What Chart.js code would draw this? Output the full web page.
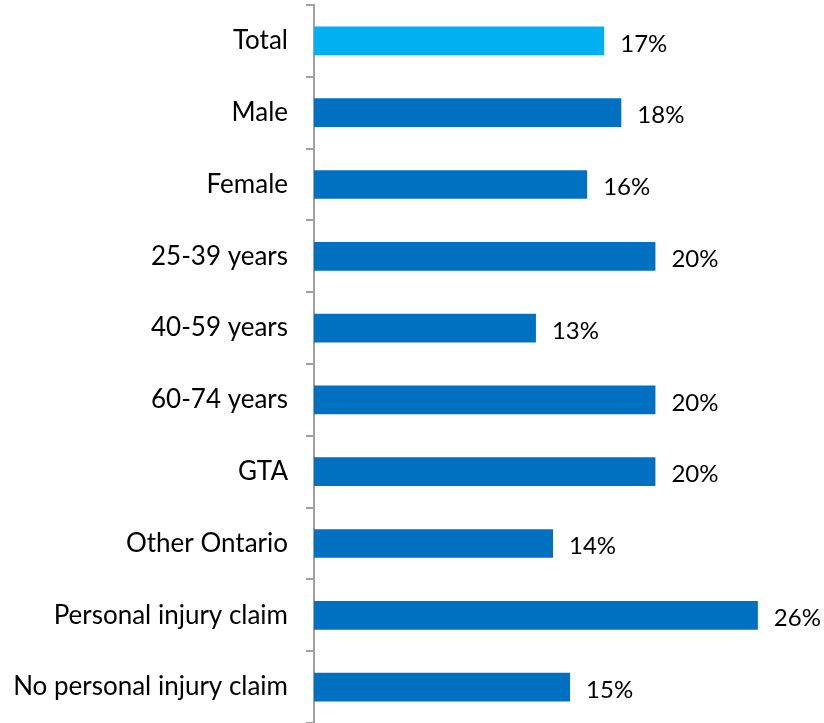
<!DOCTYPE html>
<html>
<head>
<meta charset="utf-8">
<script src="https://cdn.jsdelivr.net/npm/chart.js@4/dist/chart.umd.min.js"></script>
<style>
  html, body { margin: 0; padding: 0; background: #fff; }
  #wrap { width: 824px; height: 723px; position: relative; }
</style>
</head>
<body>
<div id="wrap"><canvas id="c"></canvas></div>
<script>
const categories = [
  'Total', 'Male', 'Female', '25-39 years', '40-59 years', '60-74 years',
  'GTA', 'Other Ontario', 'Personal injury claim', 'No personal injury claim'
];
const values = [17, 18, 16, 20, 13, 20, 20, 14, 26, 15];
const barColors = ['#00B0F0', '#0070C0', '#0070C0', '#0070C0', '#0070C0',
                   '#0070C0', '#0070C0', '#0070C0', '#0070C0', '#0070C0'];

const FONT = 'Lato, "Liberation Sans", sans-serif';

// Writes "NN%" just past the end of each bar
const valueLabels = {
  id: 'valueLabels',
  afterDatasetsDraw(chart) {
    const ctx = chart.ctx;
    const meta = chart.getDatasetMeta(0);
    ctx.save();
    ctx.font = '24px ' + FONT;
    ctx.fillStyle = '#000';
    ctx.textAlign = 'left';
    ctx.textBaseline = 'middle';
    meta.data.forEach((bar, i) => {
      ctx.fillText(values[i] + '%', bar.x + 16, bar.y + 3);
    });
    ctx.restore();
  }
};

new Chart(document.getElementById('c'), {
  type: 'bar',
  data: {
    labels: categories,
    datasets: [{
      data: values,
      backgroundColor: barColors,
      borderWidth: 0,
      categoryPercentage: 1,
      barPercentage: 0.40
    }]
  },
  options: {
    indexAxis: 'y',
    responsive: true,
    maintainAspectRatio: false,
    animation: false,
    layout: { padding: { top: 5, right: 32, bottom: 0, left: 0 } },
    plugins: { legend: { display: false }, tooltip: { enabled: false } },
    scales: {
      x: {
        display: false,
        min: 0,
        max: 28
      },
      y: {
        afterFit(scale) {
          scale.width = 314;
          scale.paddingTop = 0;
          scale.paddingBottom = 0;
        },
        border: { display: true, color: '#A0A0A0', width: 2 },
        grid: {
          display: true,
          offset: true,
          drawOnChartArea: false,
          drawTicks: true,
          tickLength: 8,
          color: '#A0A0A0',
          lineWidth: 2
        },
        ticks: {
          color: '#000',
          padding: 18,
          font: { family: FONT, size: 26 }
        }
      }
    }
  },
  plugins: [valueLabels]
});
</script>
</body>
</html>
